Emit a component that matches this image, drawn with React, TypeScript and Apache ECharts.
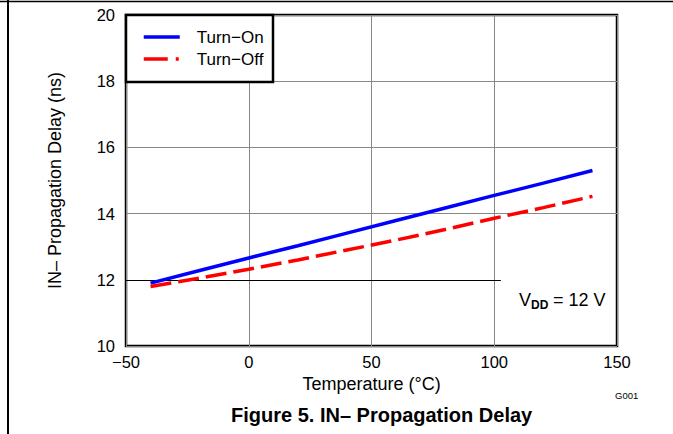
import React, { useEffect, useRef } from "react";
import * as echarts from "echarts";

const temperatures = [-40, -20, 0, 20, 40, 60, 80, 100, 120, 140];
const turnOn = [11.9, 12.28, 12.66, 13.03, 13.41, 13.79, 14.17, 14.55, 14.92, 15.3];
const turnOff = [11.8, 12.05, 12.32, 12.6, 12.9, 13.2, 13.52, 13.86, 14.18, 14.52];
const seriesNames = ["Turn\u2212On", "Turn\u2212Off"];
const xTicks = [-50, 0, 50, 100, 150];
const yTicks = [10, 12, 14, 16, 18, 20];

const FONT = "'Liberation Sans', Arial, sans-serif";

export default function App() {
  const ref = useRef<HTMLDivElement>(null);
  useEffect(() => {
    if (!ref.current) return;
    const chart = echarts.init(ref.current, null, { renderer: "svg" });
    const pair = (ys: number[]) => temperatures.map((t, i) => [t, ys[i]]);
    chart.setOption({
      animation: false,
      backgroundColor: "#fff",
      textStyle: { fontFamily: FONT },
      title: {
        text: "Figure 5. IN\u2013 Propagation Delay",
        left: 231,
        top: 405,
        padding: 0,
        textStyle: { fontFamily: FONT, fontSize: 20, fontWeight: "bold", color: "#000" },
      },
      grid: {
        left: 126,
        right: 56,
        top: 15,
        bottom: 88,
        show: true,
        borderColor: "#000",
        borderWidth: 2.5,
        backgroundColor: "transparent",
      },
      legend: {
        orient: "vertical",
        left: 142,
        top: 28,
        padding: 0,
        itemWidth: 36,
        itemHeight: 10,
        itemGap: 4,
        z: 10,
        textStyle: { fontFamily: FONT, fontSize: 17, color: "#000", lineHeight: 18, padding: [0, 0, 0, 12] },
        data: [
          {
            name: seriesNames[0],
            itemStyle: { opacity: 0 },
            lineStyle: { color: "#0000ff", width: 3.5, type: "solid" },
          },
          {
            name: seriesNames[1],
            itemStyle: { opacity: 0 },
            lineStyle: { color: "#ff0000", width: 3.5, type: [24, 8, 3, 8] },
          },
        ],
      },
      xAxis: {
        type: "value",
        min: xTicks[0],
        max: xTicks[xTicks.length - 1],
        interval: 50,
        name: "Temperature (\u00b0C)",
        nameLocation: "middle",
        nameGap: 28,
        nameTextStyle: { fontFamily: FONT, fontSize: 18, color: "#000" },
        axisLine: { show: false },
        axisTick: { show: false },
        axisLabel: {
          fontFamily: FONT,
          fontSize: 16.5,
          color: "#000",
          margin: 7,
          formatter: (v: number) => (v < 0 ? "\u2212" + Math.abs(v) : String(v)),
        },
        splitLine: { show: true, lineStyle: { color: "#888", width: 1 } },
      },
      yAxis: {
        type: "value",
        min: yTicks[0],
        max: yTicks[yTicks.length - 1],
        interval: 2,
        name: "IN\u2013 Propagation Delay (ns)",
        nameLocation: "middle",
        nameGap: 62,
        nameTextStyle: { fontFamily: FONT, fontSize: 18, color: "#000" },
        axisLine: { show: false },
        axisTick: { show: false },
        axisLabel: { fontFamily: FONT, fontSize: 16.5, color: "#000", margin: 11 },
        splitLine: {
          show: true,
          lineStyle: { color: ["#888", "rgba(0,0,0,0)", "#888", "#888", "#888", "#888"], width: 1 },
        },
      },
      series: [
        {
          name: seriesNames[0],
          type: "line",
          data: pair(turnOn),
          showSymbol: false,
          symbol: "none",
          lineStyle: { color: "#0000ff", width: 3.5 },
          itemStyle: { color: "#0000ff" },
          z: 3,
          markLine: {
            silent: true,
            symbol: "none",
            label: { show: false },
            lineStyle: { color: "#000", width: 1, type: "solid" },
            data: [[{ coord: [-50, 12] }, { coord: [102.7, 12] }]],
            z: 1,
          },
        },
        {
          name: seriesNames[1],
          type: "line",
          data: pair(turnOff),
          showSymbol: false,
          symbol: "none",
          lineStyle: { color: "#ff0000", width: 3.5, type: [21, 7] },
          itemStyle: { color: "#ff0000" },
          z: 3,
        },
      ],
      graphic: [
        { type: "line", shape: { x1: 0, y1: 1.5, x2: 673, y2: 1.5 }, style: { stroke: "#000", lineWidth: 1.5 }, z: 1 },
        { type: "line", shape: { x1: 8, y1: 0, x2: 8, y2: 434 }, style: { stroke: "#000", lineWidth: 2 }, z: 1 },
        {
          type: "rect",
          shape: { x: 126, y: 15, width: 147, height: 67 },
          style: { fill: "#fff", stroke: "#000", lineWidth: 2.5 },
          z: 5,
        },
        {
          type: "text",
          left: 519,
          top: 291,
          style: { text: "V", fontFamily: FONT, fontSize: 18, fill: "#000" },
          z: 5,
        },
        {
          type: "text",
          left: 531,
          top: 299,
          style: { text: "DD", fontFamily: FONT, fontSize: 12, fontWeight: "bold", fill: "#000" },
          z: 5,
        },
        {
          type: "text",
          left: 553,
          top: 291,
          style: { text: "= 12 V", fontFamily: FONT, fontSize: 18, fill: "#000" },
          z: 5,
        },
        {
          type: "text",
          left: 615,
          top: 390,
          style: { text: "G001", fontFamily: FONT, fontSize: 9.5, fill: "#000" },
          z: 5,
        },
      ],
    });
    return () => chart.dispose();
  }, []);
  return (
    <div
      ref={ref}
      style={{ position: "fixed", left: 0, top: 0, width: 673, height: 434, background: "#fff" }}
    />
  );
}
